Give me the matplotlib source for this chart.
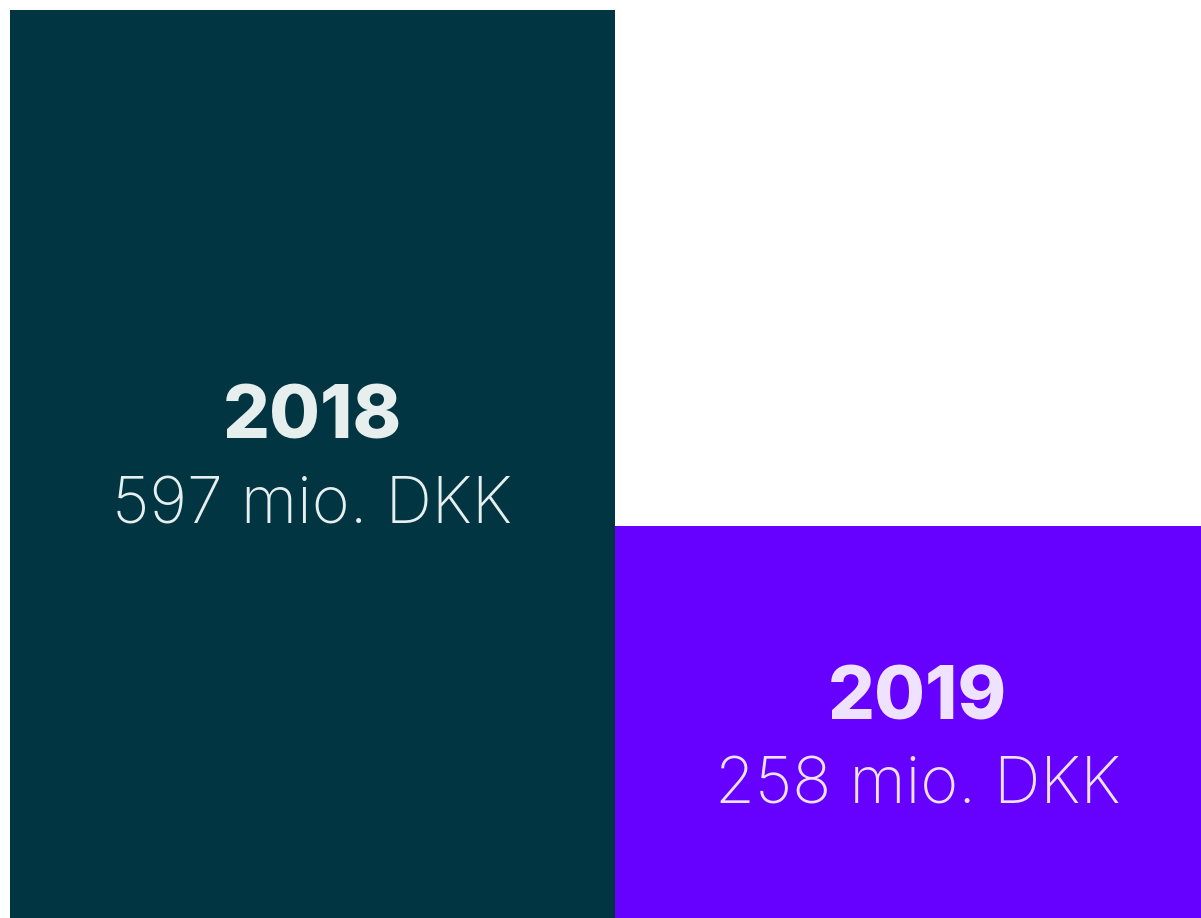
import matplotlib
matplotlib.use("Agg")
import matplotlib.pyplot as plt

years = ["2018", "2019"]
values = [597, 258]
labels = ["597 mio. DKK", "258 mio. DKK"]

colors = ["#003541", "#6600FF"]
text_colors = ["#E6EEEE", "#EEE2FF"]

fig = plt.figure(figsize=(12.01, 9.18), dpi=100)
ax = fig.add_axes([10 / 1201, 0, 1191 / 1201, 908 / 918])
xs = list(range(len(years)))
ax.bar(xs, values, width=1.0, color=colors, linewidth=0)
ax.set_xlim(-0.5, -0.5 + 1191 / 605)
ax.set_ylim(0, max(values))
ax.axis("off")

px = max(values) / 908.0
year_y = [918 - 419, 918 - 700]
val_y = [918 - 506, 918 - 787]
for i in range(len(years)):
    ax.text(xs[i], year_y[i] * px, years[i], ha="center", va="center",
            fontsize=53, fontweight="heavy", family=["Inter", "DejaVu Sans"],
            color=text_colors[i])
    ax.text(xs[i], val_y[i] * px, labels[i], ha="center", va="center",
            fontsize=46.5, fontweight="light", family=["Inter", "DejaVu Sans"],
            color=text_colors[i])

fig.savefig("out.png", dpi=100)
